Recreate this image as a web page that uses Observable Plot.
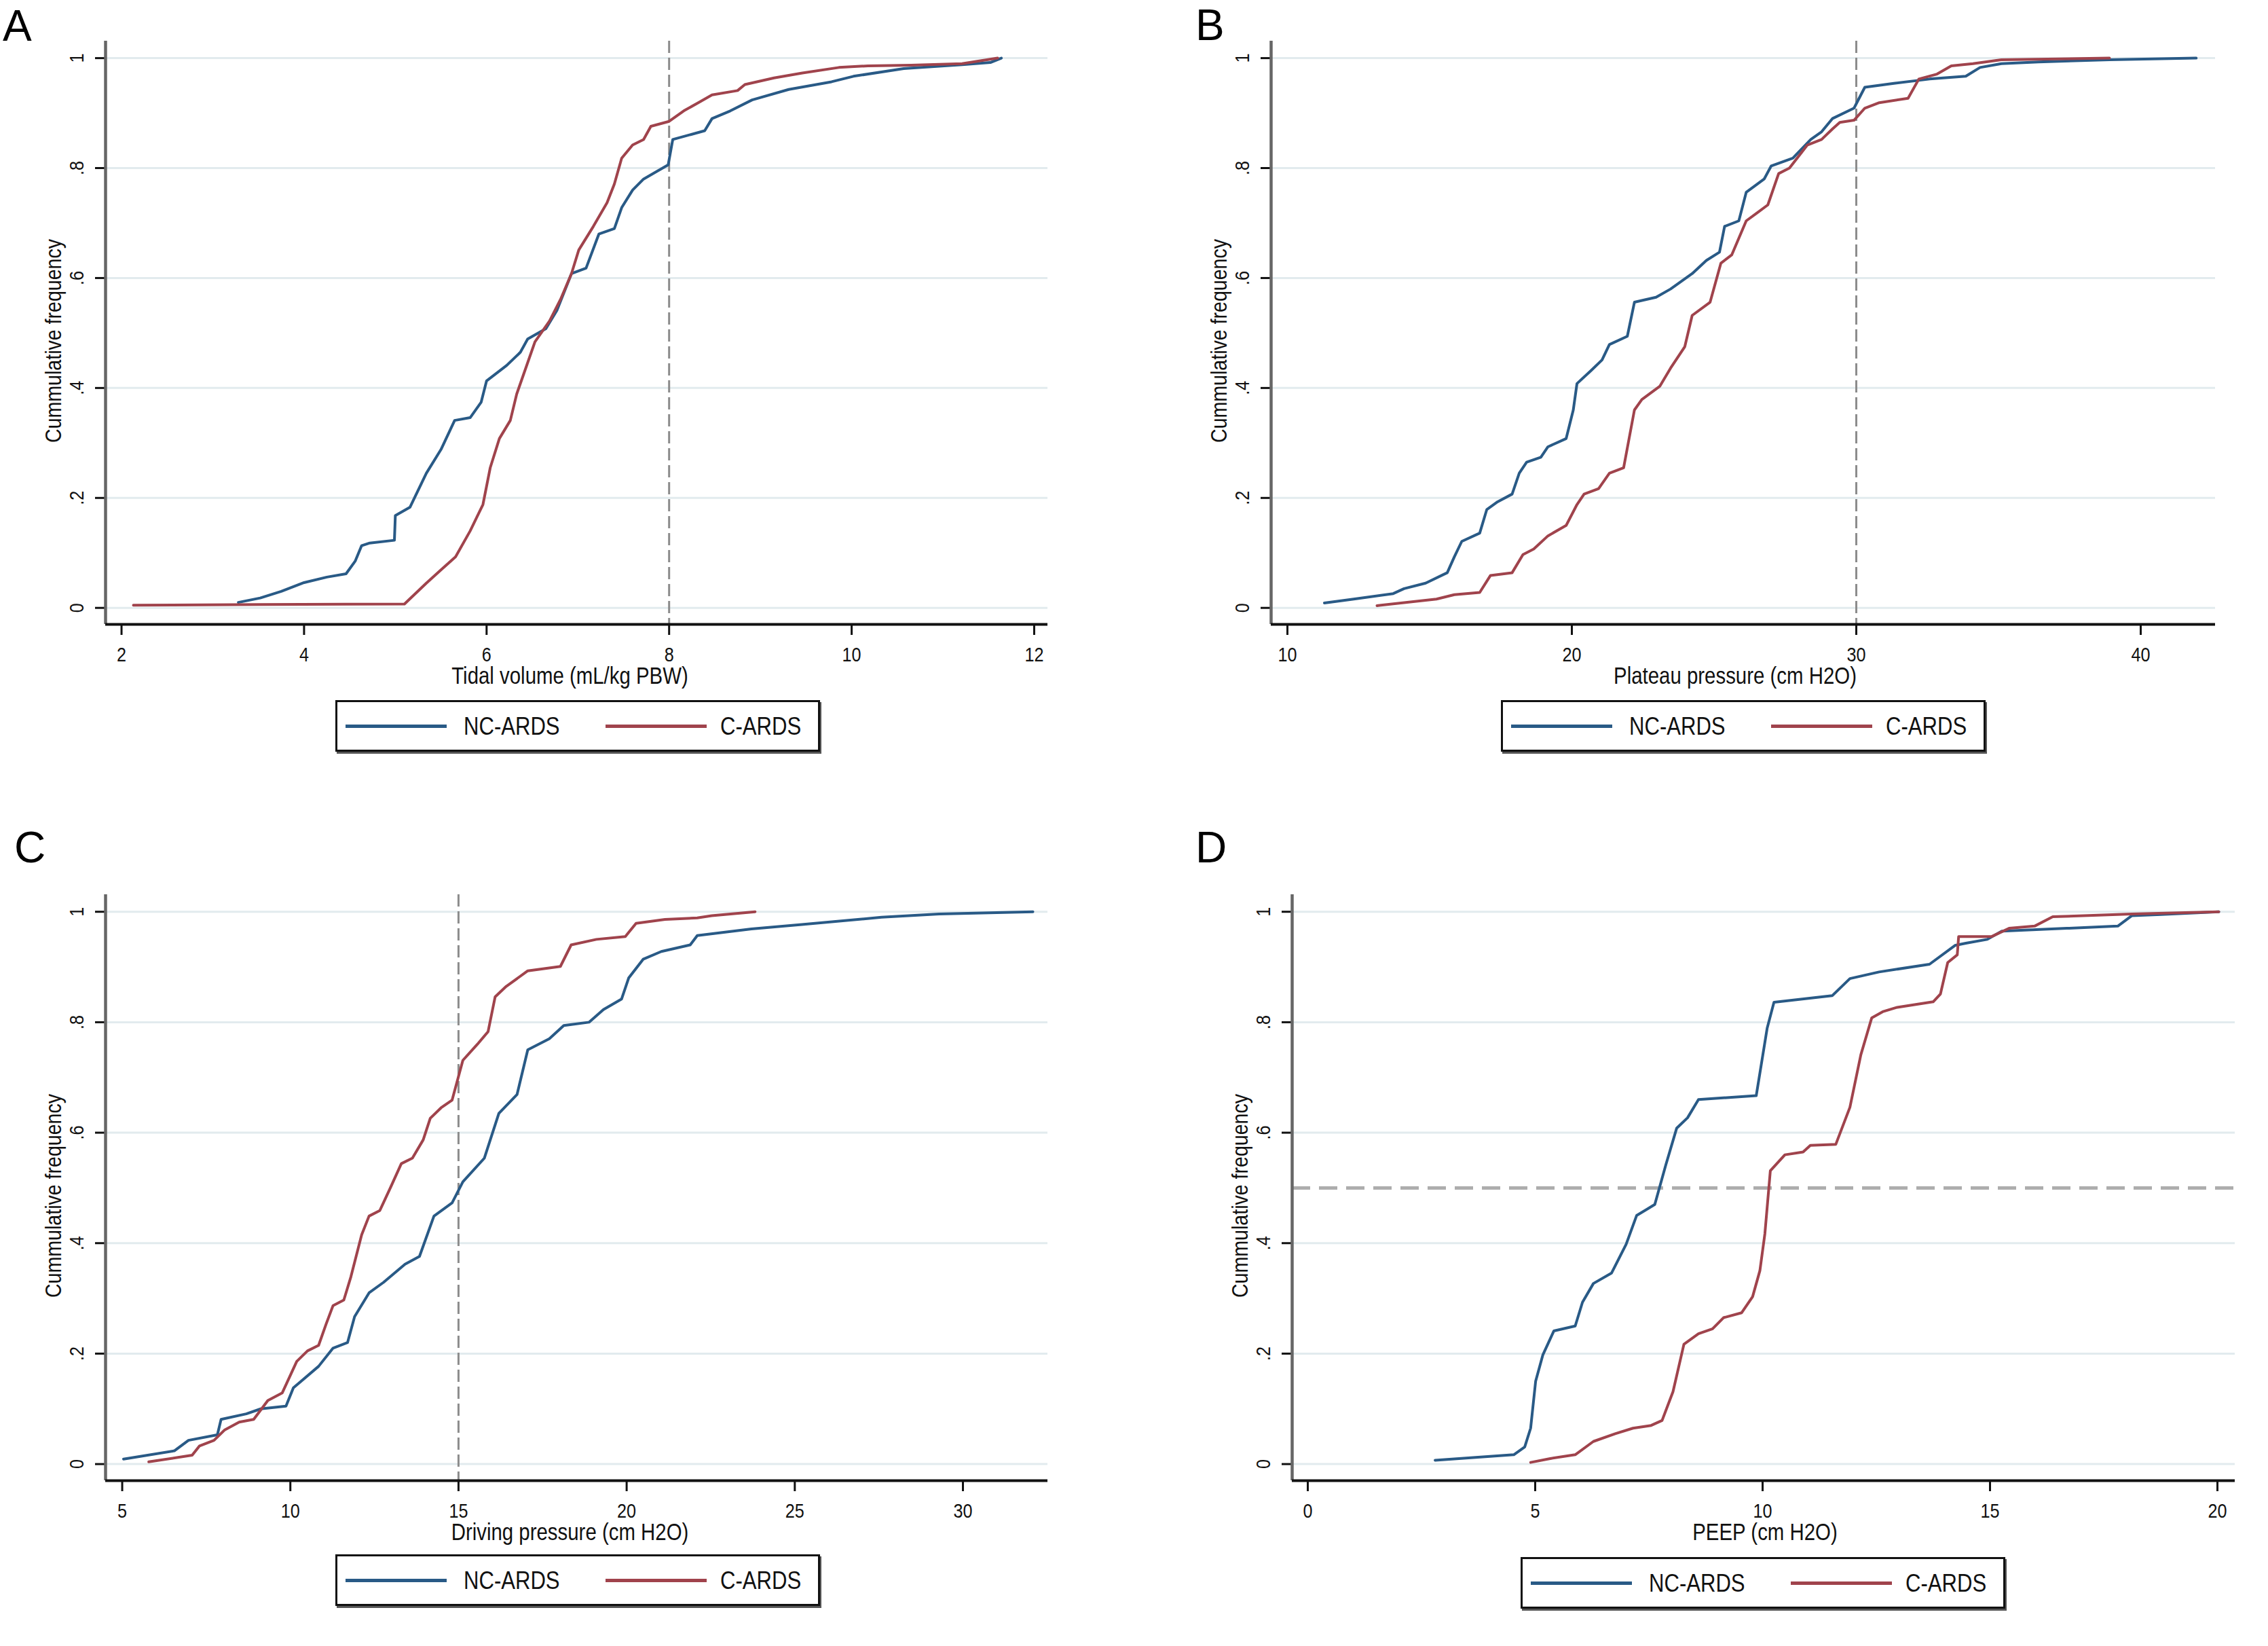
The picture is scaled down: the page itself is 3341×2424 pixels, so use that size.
<!DOCTYPE html>
<html><head><meta charset="utf-8">
<script src="https://cdn.jsdelivr.net/npm/d3@7"></script>
<script src="https://cdn.jsdelivr.net/npm/@observablehq/plot@0.6"></script>
<style>
html,body{margin:0;padding:0;background:#fff;}
#fig{position:relative;width:3341px;height:2424px;background:#fff;overflow:hidden;font-family:'Liberation Sans',Arial,sans-serif;}
.panel{position:absolute;}
.letter{position:absolute;font-family:'Liberation Sans',Arial,sans-serif;font-size:64px;line-height:1;color:#000;}
.legend{position:absolute;box-sizing:border-box;border:3px solid #111;box-shadow:2px 3px 0 #555;background:#fff;height:76px;width:714px;}
.legend .sw{position:absolute;top:50%;height:5px;width:149px;margin-top:-2.5px;}
.legend .lab{position:absolute;top:50%;transform:translateY(-50%) scaleX(0.84);transform-origin:left center;font-size:37px;line-height:1;color:#111;white-space:nowrap;}
</style></head>
<body><div id="fig"></div>
<script>
// ---------- data ----------
const seriesNames = ["NC-ARDS", "C-ARDS"];
const seriesColors = ["#295a86", "#a0434c"];
const yTicks = [0, 0.2, 0.4, 0.6, 0.8, 1];
const yTickLabels = ["0", ".2", ".4", ".6", ".8", "1"];
const yTitle = "Cummulative frequency";

// A: tidal volume
const tvTicks = [2, 4, 6, 8, 10, 12];
const tvTitle = "Tidal volume (mL/kg PBW)";
const tvRef = 8;
const tvNC = [[3.28,0.010],[3.52,0.018],[3.75,0.030],[4.0,0.046],[4.25,0.056],[4.46,0.062],[4.56,0.085],[4.63,0.113],[4.72,0.118],[4.99,0.123],[5.0,0.168],[5.16,0.183],[5.34,0.245],[5.5,0.288],[5.65,0.341],[5.82,0.346],[5.94,0.374],[6.0,0.413],[6.22,0.441],[6.37,0.465],[6.45,0.489],[6.65,0.508],[6.77,0.541],[6.93,0.608],[7.09,0.618],[7.23,0.680],[7.40,0.690],[7.48,0.728],[7.60,0.760],[7.72,0.780],[7.99,0.806],[8.04,0.852],[8.39,0.868],[8.47,0.890],[8.67,0.904],[8.91,0.924],[9.31,0.943],[9.78,0.957],[10.02,0.967],[10.57,0.981],[11.21,0.988],[11.52,0.992],[11.64,1.0]];
const tvC = [[2.13,0.005],[3.5,0.006],[5.1,0.007],[5.34,0.045],[5.5,0.069],[5.66,0.093],[5.82,0.14],[5.96,0.188],[6.04,0.255],[6.14,0.308],[6.26,0.341],[6.33,0.389],[6.41,0.427],[6.53,0.484],[6.69,0.522],[6.81,0.561],[6.93,0.608],[7.01,0.651],[7.17,0.694],[7.32,0.737],[7.40,0.771],[7.48,0.818],[7.60,0.842],[7.72,0.852],[7.80,0.876],[8.0,0.885],[8.16,0.904],[8.32,0.919],[8.47,0.933],[8.75,0.941],[8.83,0.952],[9.15,0.964],[9.46,0.973],[9.86,0.983],[10.18,0.986],[10.65,0.987],[11.21,0.990],[11.6,1.0]];

// B: plateau pressure
const ppTicks = [10, 20, 30, 40];
const ppTitle = "Plateau pressure (cm H2O)";
const ppRef = 30;
const ppNC = [[11.3,0.009],[12.33,0.016],[13.72,0.026],[14.1,0.035],[14.86,0.045],[15.62,0.064],[15.87,0.093],[16.13,0.121],[16.76,0.136],[17.01,0.179],[17.39,0.193],[17.9,0.207],[18.15,0.245],[18.41,0.265],[18.91,0.274],[19.16,0.293],[19.8,0.308],[20.05,0.36],[20.18,0.408],[20.68,0.432],[21.06,0.451],[21.32,0.479],[21.95,0.494],[22.2,0.556],[22.96,0.565],[23.47,0.58],[24.23,0.608],[24.73,0.632],[25.19,0.647],[25.37,0.694],[25.87,0.704],[26.13,0.756],[26.76,0.78],[27.01,0.804],[27.77,0.818],[28.4,0.852],[28.78,0.866],[29.16,0.89],[29.92,0.909],[30.3,0.947],[31.32,0.954],[32.58,0.962],[33.85,0.967],[34.35,0.983],[35.1,0.99],[36.4,0.993],[38.9,0.997],[41.95,1.0]];
const ppC = [[13.15,0.004],[15.24,0.016],[15.87,0.024],[16.76,0.028],[17.14,0.059],[17.9,0.064],[18.28,0.097],[18.66,0.107],[19.16,0.131],[19.8,0.15],[20.18,0.188],[20.43,0.207],[20.94,0.217],[21.32,0.245],[21.82,0.255],[22.2,0.36],[22.46,0.379],[23.09,0.403],[23.47,0.436],[23.97,0.475],[24.23,0.532],[24.86,0.556],[25.24,0.627],[25.62,0.642],[26.13,0.704],[26.5,0.718],[26.89,0.733],[27.27,0.79],[27.65,0.8],[28.28,0.842],[28.78,0.852],[29.16,0.871],[29.42,0.883],[29.92,0.887],[30.3,0.909],[30.81,0.919],[31.82,0.927],[32.2,0.962],[32.84,0.971],[33.34,0.986],[34.1,0.99],[35.1,0.997],[38.9,1.0]];

// C: driving pressure
const dpTicks = [5, 10, 15, 20, 25, 30];
const dpTitle = "Driving pressure (cm H2O)";
const dpRef = 15;
const dpNC = [[5.04,0.009],[6.55,0.024],[6.97,0.043],[7.83,0.053],[7.94,0.081],[8.69,0.091],[9.12,0.1],[9.87,0.105],[10.09,0.138],[10.84,0.177],[11.27,0.21],[11.7,0.22],[11.91,0.267],[12.34,0.31],[12.77,0.329],[13.41,0.362],[13.84,0.376],[14.27,0.449],[14.81,0.473],[15.13,0.511],[15.77,0.554],[16.2,0.635],[16.74,0.669],[17.06,0.75],[17.7,0.77],[18.13,0.794],[18.88,0.8],[19.31,0.823],[19.85,0.842],[20.06,0.88],[20.49,0.914],[21.03,0.928],[21.89,0.94],[22.1,0.957],[23.71,0.969],[25.21,0.977],[27.58,0.99],[29.29,0.996],[32.08,1.0]];
const dpC = [[5.79,0.004],[7.08,0.016],[7.3,0.033],[7.73,0.043],[8.05,0.062],[8.48,0.076],[8.91,0.081],[9.33,0.115],[9.76,0.129],[10.19,0.186],[10.51,0.205],[10.84,0.215],[11.06,0.253],[11.27,0.287],[11.59,0.297],[11.8,0.339],[12.12,0.415],[12.34,0.449],[12.66,0.459],[12.98,0.501],[13.3,0.544],[13.63,0.554],[13.95,0.587],[14.16,0.626],[14.48,0.645],[14.81,0.659],[15.13,0.731],[15.56,0.76],[15.88,0.783],[16.09,0.846],[16.42,0.865],[17.06,0.893],[18.03,0.901],[18.35,0.94],[19.1,0.95],[19.96,0.955],[20.28,0.979],[21.14,0.986],[22.1,0.989],[22.53,0.993],[23.82,1.0]];

// D: PEEP
const peTicks = [0, 5, 10, 15, 20];
const peTitle = "PEEP (cm H2O)";
const peRef = 0.5;
const peNC = [[2.8,0.007],[4.53,0.017],[4.77,0.031],[4.9,0.065],[5.01,0.15],[5.17,0.198],[5.41,0.241],[5.88,0.25],[6.04,0.293],[6.28,0.327],[6.68,0.346],[7.0,0.398],[7.23,0.45],[7.63,0.47],[7.87,0.541],[8.11,0.608],[8.35,0.627],[8.59,0.66],[9.86,0.667],[10.1,0.789],[10.25,0.836],[11.53,0.848],[11.92,0.879],[12.56,0.891],[13.67,0.905],[14.23,0.939],[14.47,0.943],[14.94,0.95],[15.26,0.965],[16.69,0.97],[17.81,0.974],[18.12,0.993],[18.76,0.995],[20.03,1.0]];
const peC = [[4.9,0.003],[5.33,0.01],[5.88,0.017],[6.28,0.041],[6.76,0.055],[7.15,0.065],[7.55,0.07],[7.79,0.079],[8.03,0.131],[8.27,0.217],[8.59,0.236],[8.9,0.245],[9.14,0.265],[9.54,0.274],[9.78,0.303],[9.94,0.35],[10.05,0.417],[10.17,0.531],[10.49,0.56],[10.89,0.565],[11.05,0.577],[11.61,0.579],[11.92,0.646],[12.16,0.741],[12.4,0.808],[12.64,0.819],[12.96,0.827],[13.75,0.837],[13.91,0.851],[14.07,0.908],[14.28,0.922],[14.31,0.955],[15.03,0.955],[15.42,0.97],[15.98,0.974],[16.38,0.991],[18.12,0.996],[20.03,1.0]];

// ---------- drawing ----------
const fig = document.getElementById("fig");
const FONT = "'Liberation Sans',Arial,sans-serif";
const SQUEEZE = 0.84;

function condense(svg) {
  svg.querySelectorAll("text").forEach(t => {
    const len = t.getComputedTextLength();
    if (len > 0) {
      t.setAttribute("textLength", (len * SQUEEZE).toFixed(2));
      t.setAttribute("lengthAdjust", "spacingAndGlyphs");
    }
  });
}

function panel(o) {
  const marks = [
    Plot.gridY(yTicks, {stroke: "#e2ebee", strokeOpacity: 1, strokeWidth: 3}),
  ];
  if (o.refAxis === "x") marks.push(Plot.ruleX([o.ref], {stroke: "#8c8c8c", strokeWidth: 3, strokeDasharray: "18,7"}));
  else marks.push(Plot.ruleY([o.ref], {stroke: "#adadad", strokeWidth: 5, strokeDasharray: "27,13"}));
  marks.push(
    Plot.line(o.nc, {x: d => d[0], y: d => d[1], stroke: seriesColors[0], strokeWidth: 4}),
    Plot.line(o.c, {x: d => d[0], y: d => d[1], stroke: seriesColors[1], strokeWidth: 4}),
    Plot.axisX(o.ticks, {tickSize: 16, tickPadding: 17, strokeWidth: 3, stroke: "#111", fill: "#111", label: null, fontSize: 30,
      tickFormat: d => String(d)}),
    Plot.axisY(yTicks, {tickSize: 15, tickPadding: 18, tickRotate: -90, strokeWidth: 3, stroke: "#111", fill: "#111",
      tickFormat: d => yTickLabels[yTicks.indexOf(d)], label: null, fontSize: 30}),
    Plot.ruleX([o.xDomain[0]], {stroke: "#666", strokeWidth: 4.5}),
    Plot.ruleY([o.yDomain[0]], {stroke: "#111", strokeWidth: 4}),
    Plot.text([o.xTitle], {text: d => d, frameAnchor: "bottom", dx: o.titleDx, dy: 87, textAnchor: "middle", lineAnchor: "bottom", fontSize: 35, fill: "#111"}),
    Plot.text([yTitle], {text: d => d, frameAnchor: "left", dx: -90, dy: 12, rotate: -90, textAnchor: "middle", lineAnchor: "top", fontSize: 34, fill: "#111"})
  );
  const svg = Plot.plot({
    width: o.width, height: o.height,
    marginLeft: o.ml, marginRight: o.mr, marginTop: o.mt, marginBottom: o.mb,
    x: {domain: o.xDomain},
    y: {domain: o.yDomain},
    style: {background: "transparent", fontFamily: FONT, fontSize: "30px", color: "#111", overflow: "visible", maxWidth: "none"},
    marks
  });
  const div = document.createElement("div");
  div.className = "panel";
  div.style.left = o.left + "px"; div.style.top = o.top + "px"; div.style.width = o.width + "px";
  div.appendChild(svg);
  fig.appendChild(div);
  condense(svg);

  const lg = document.createElement("div");
  lg.className = "legend";
  lg.style.left = o.lgLeft + "px"; lg.style.top = o.lgTop + "px";
  const pos = [[12, 186], [395, 564]];
  seriesNames.forEach((n, i) => {
    const sw = document.createElement("div");
    sw.className = "sw"; sw.style.left = pos[i][0] + "px"; sw.style.background = seriesColors[i];
    const lab = document.createElement("div");
    lab.className = "lab"; lab.style.left = pos[i][1] + "px"; lab.textContent = n;
    lg.appendChild(sw); lg.appendChild(lab);
  });
  fig.appendChild(lg);

  const L = document.createElement("div");
  L.className = "letter"; L.textContent = o.letter;
  L.style.left = o.letterLeft + "px"; L.style.top = o.letterTop + "px";
  fig.appendChild(L);
}

const yDom = [-0.03, 1.031];
panel({letter: "A", letterLeft: 4, letterTop: 6, left: 0, top: 0, width: 1670, height: 1020, ml: 155, mr: 127, mt: 60, mb: 101,
  xDomain: [1.825, 12.149], yDomain: yDom, ticks: tvTicks, xTitle: tvTitle, titleDx: -10, ref: tvRef, refAxis: "x", nc: tvNC, c: tvC,
  lgLeft: 494, lgTop: 1031});
panel({letter: "B", letterLeft: 1761, letterTop: 5, left: 1670, top: 0, width: 1671, height: 1020, ml: 202, mr: 78, mt: 60, mb: 101,
  xDomain: [9.427, 42.625], yDomain: yDom, ticks: ppTicks, xTitle: ppTitle, titleDx: -12, ref: ppRef, refAxis: "x", nc: ppNC, c: ppC,
  lgLeft: 2211, lgTop: 1031});
panel({letter: "C", letterLeft: 21, letterTop: 1216, left: 0, top: 1259, width: 1670, height: 1022, ml: 155, mr: 127, mt: 58, mb: 101,
  xDomain: [4.505, 32.523], yDomain: yDom, ticks: dpTicks, xTitle: dpTitle, titleDx: -10, ref: dpRef, refAxis: "x", nc: dpNC, c: dpC,
  lgLeft: 494, lgTop: 2289});
panel({letter: "D", letterLeft: 1761, letterTop: 1216, left: 1670, top: 1259, width: 1671, height: 1022, ml: 233, mr: 49, mt: 58, mb: 101,
  xDomain: [-0.343, 20.388], yDomain: yDom, ticks: peTicks, xTitle: peTitle, titleDx: 2, ref: peRef, refAxis: "y", nc: peNC, c: peC,
  lgLeft: 2240, lgTop: 2293});
</script>
</body></html>
